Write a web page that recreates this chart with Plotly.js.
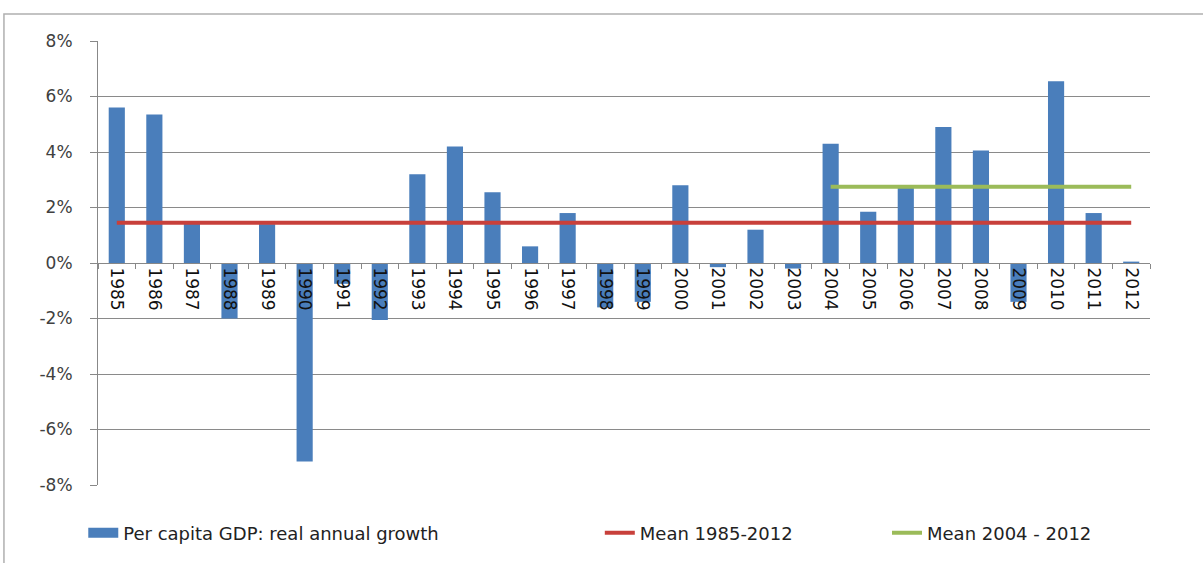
<!DOCTYPE html>
<html><head><meta charset="utf-8">
<script src="https://cdn.plot.ly/plotly-3.0.1.min.js"></script>
<style>
html,body{margin:0;padding:0;background:#fff}
</style>
</head><body><div id="chart" style="width:1203px;height:563px"></div>
<script>
const years = ['1985','1986','1987','1988','1989','1990','1991','1992','1993','1994','1995','1996','1997','1998','1999','2000','2001','2002','2003','2004','2005','2006','2007','2008','2009','2010','2011','2012'];
const growth = [5.6, 5.35, 1.5, -2.0, 1.4, -7.15, -0.75, -2.05, 3.2, 4.2, 2.55, 0.6, 1.8, -1.6, -1.4, 2.8, -0.15, 1.2, -0.2, 4.3, 1.85, 2.7, 4.9, 4.05, -1.4, 6.55, 1.8, 0.05];
const meanAllYears = years;
const meanAllValue = 1.45;
const meanRecentYears = ['2004','2005','2006','2007','2008','2009','2010','2011','2012'];
const meanRecentValue = 2.75;
const seriesNames = ['Per capita GDP: real annual growth', 'Mean 1985-2012', 'Mean 2004 - 2012'];
const yTickVals = [-8, -6, -4, -2, 0, 2, 4, 6, 8];
const yTickLabels = ['-8%', '-6%', '-4%', '-2%', '0%', '2%', '4%', '6%', '8%'];

const FONT = 'DejaVu Sans';
const BAR_COLOR = '#4a7ebb';
const traces = [
  {type:'bar', x: years, y: growth, name: seriesNames[0], marker:{color:BAR_COLOR}, showlegend:false, hoverinfo:'x+y'},
  // legend-only entry drawn as a wide block, like the reference's bar swatch
  {type:'scatter', mode:'lines', x:[years[0]], y:[null], name: seriesNames[0], line:{color:BAR_COLOR, width:13}, legend:'legend', hoverinfo:'skip'},
  {type:'scatter', mode:'lines', x: meanAllYears, y: meanAllYears.map(() => meanAllValue), name: seriesNames[1], line:{color:'#c8403b', width:4}, legend:'legend2'},
  {type:'scatter', mode:'lines', x: meanRecentYears, y: meanRecentYears.map(() => meanRecentValue), name: seriesNames[2], line:{color:'#9bbb59', width:4}, legend:'legend3'}
];
const legendBase = {orientation:'h', yanchor:'middle', y:-0.108, xanchor:'left', bgcolor:'rgba(0,0,0,0)', font:{family:FONT, size:18, color:'#222'}, itemwidth:30};
const layout = {
  width:1203, height:563,
  margin:{l:98, r:53, t:41, b:78},
  paper_bgcolor:'#fff', plot_bgcolor:'#fff',
  bargap:0.57,
  showlegend:true,
  font:{family:FONT},
  xaxis:{type:'category', anchor:'free', position:0.5, showline:true, linecolor:'#888', linewidth:1,
    ticks:'outside', tickson:'boundaries', ticklen:5, tickcolor:'#888', tickangle:90,
    tickfont:{family:FONT, size:17, color:'#111'}, showgrid:false, zeroline:false, fixedrange:true},
  yaxis:{range:[-8,8], tickvals:yTickVals, ticktext:yTickLabels, showgrid:true, gridcolor:'#8a8a8a', gridwidth:1,
    showline:true, linecolor:'#888', linewidth:1, ticks:'outside', ticklen:7, tickcolor:'#888', zeroline:false,
    tickfont:{family:FONT, size:17, color:'#404040'}, ticklabelstandoff:14, fixedrange:true},
  legend: Object.assign({}, legendBase, {x:-0.014}),
  legend2: Object.assign({}, legendBase, {x:0.477}),
  legend3: Object.assign({}, legendBase, {x:0.75}),
  shapes:[{type:'rect', xref:'paper', yref:'paper', x0:-0.0894, x1:1.3, y0:-0.5, y1:1.0608,
    line:{color:'#b0b0b0', width:1.5}, fillcolor:'rgba(0,0,0,0)', layer:'below'}]
};
Plotly.newPlot('chart', traces, layout, {displayModeBar:false, staticPlot:true});
</script></body></html>
